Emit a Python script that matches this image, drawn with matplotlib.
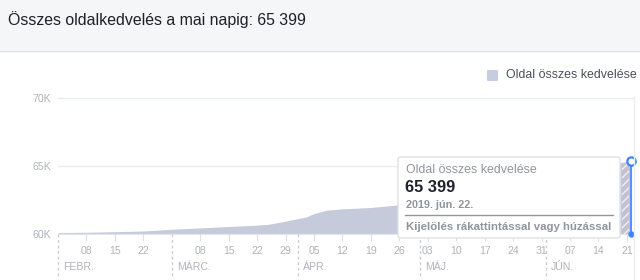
import matplotlib
matplotlib.use("Agg")
import matplotlib.pyplot as plt
import matplotlib.dates as mdates
from matplotlib.patches import Rectangle, FancyBboxPatch
import numpy as np
import datetime as dt

plt.rcParams['font.family'] = ['Liberation Sans', 'DejaVu Sans']

# ---- data ----
dates = ["2019-02-01", "2019-02-08", "2019-02-15", "2019-02-22", "2019-03-01",
         "2019-03-08", "2019-03-15", "2019-03-22", "2019-03-25", "2019-03-29",
         "2019-04-03", "2019-04-05", "2019-04-08", "2019-04-12", "2019-04-19",
         "2019-04-26", "2019-05-03", "2019-05-10", "2019-05-17", "2019-05-24",
         "2019-05-31", "2019-06-07", "2019-06-14", "2019-06-22"]
likes = [60100, 60130, 60170, 60220, 60350, 60450, 60550, 60650, 60720, 60950,
         61250, 61500, 61750, 61850, 61950, 62150, 62500, 62850, 63200, 63600,
         64000, 64500, 64950, 65399]
ytick_vals = [60000, 65000, 70000]
ytick_labels = ["60K", "65K", "70K"]
week_ticks = ["2019-02-08", "2019-02-15", "2019-02-22", "2019-03-08", "2019-03-15",
              "2019-03-22", "2019-03-29", "2019-04-05", "2019-04-12", "2019-04-19",
              "2019-04-26", "2019-05-03", "2019-05-10", "2019-05-17", "2019-05-24",
              "2019-05-31", "2019-06-07", "2019-06-14", "2019-06-21"]
month_starts = ["2019-02-01", "2019-03-01", "2019-04-01", "2019-05-01", "2019-06-01"]
month_labels = ["FEBR.", "MÁRC.", "ÁPR.", "MÁJ.", "JÚN."]
title = "Összes oldalkedvelés a mai napig: 65 399"
series_name = "Oldal összes kedvelése"
tip_value = "65 399"
tip_date = "2019. jún. 22."
tip_hint = "Kijelölés rákattintással vagy húzással"

to_d = lambda s: mdates.date2num(dt.datetime.strptime(s, "%Y-%m-%d"))
x = np.array([to_d(d) for d in dates])
y = np.array(likes)

W, H = 640, 280
fig = plt.figure(figsize=(W / 100, H / 100), dpi=100)
fig.patch.set_facecolor("white")

def fx(px): return px / W
def fy(py): return 1 - py / H

# header band
fig.patches.append(Rectangle((0, fy(50)), 1, 1 - fy(50), transform=fig.transFigure,
                             facecolor="#f5f6f7", edgecolor="none", zorder=0))
fig.add_artist(plt.Line2D([0, 1], [fy(50.5), fy(50.5)], transform=fig.transFigure,
                          color="#dddfe2", lw=1))
fig.text(fx(8), fy(20), title, fontsize=11.4, color="#1d2129", va="center", ha="left")

# legend
fig.patches.append(FancyBboxPatch((fx(487), fy(81)), fx(11), 11 / H,
                                  boxstyle="round,pad=0,rounding_size=0.003",
                                  transform=fig.transFigure, facecolor="#c7cde0",
                                  edgecolor="none"))
fig.text(fx(506), fy(75), series_name, fontsize=8.9, color="#4b4f56", va="center", ha="left")

# axes
left, right, top, bottom = 58, 631, 98, 234
ax = fig.add_axes([fx(left), fy(bottom), fx(right - left), fy(top) - fy(bottom)])
ax.set_facecolor("none")
ax.set_xlim(to_d("2019-02-01"), to_d("2019-06-22"))
ax.set_ylim(60000, 70000)
for s in ax.spines.values():
    s.set_visible(False)

for v in ytick_vals[1:]:
    ax.axhline(v, color="#e9ebee", lw=1, zorder=0, clip_on=False, xmax=1.004)
ax.axhline(60000, color="#dddfe2", lw=1, zorder=3)

ax.fill_between(x, 60000, y, color="#c6cbdc", lw=0, zorder=2)

ax.set_yticks(ytick_vals)
ax.set_yticklabels(ytick_labels, fontsize=7.6, color="#b0b3b9")
ax.tick_params(axis="y", length=0, pad=5)

wt = [to_d(d) for d in week_ticks]
ax.set_xticks(wt)
ax.set_xticklabels([d[-2:] for d in week_ticks], fontsize=7.6, color="#b0b3b9")
ax.tick_params(axis="x", length=5, color="#dddfe2", pad=4)

trans = ax.get_xaxis_transform()
for ms, ml in zip(month_starts, month_labels):
    m = to_d(ms)
    ax.plot([m, m], [0, -44 / 136], transform=trans, color="#c9ccd1", lw=1,
            ls=(0, (2, 2)), clip_on=False)
    ax.annotate(ml, xy=(m, 0), xycoords=trans, xytext=(5, -33), textcoords="offset pixels",
                fontsize=7.6, color="#b0b3b9", ha="left", va="center", annotation_clip=False)

# right border line
fig.add_artist(plt.Line2D([fx(633.5), fx(633.5)], [fy(96), fy(280)], transform=fig.transFigure,
                          color="#eceef1", lw=1))

# selection band + marker
last = x[-1]
ax.add_patch(Rectangle((last - 2.2, 60000), 1.8, y[-1] - 60000 - 250, facecolor="#c0c3ca",
                       edgecolor="#eef0f3", hatch="////", lw=0, zorder=4))
ax.plot([last, last], [60000, y[-1]], color="#5890ff", lw=1.5, zorder=5, clip_on=False)
ax.plot([last], [y[-1]], marker="o", ms=6, mfc="white", mec="#4080ff", mew=1.6,
        zorder=6, clip_on=False)
ax.plot([last], [60000], marker="o", ms=3.5, color="#4080ff", zorder=6, clip_on=False)

# tooltip
tip = FancyBboxPatch((fx(398), fy(238)), fx(222), (238 - 157) / H,
                     boxstyle="round,pad=0,rounding_size=0.006", transform=fig.transFigure,
                     facecolor="white", edgecolor="#dfe1e5", lw=1, zorder=10)
fig.patches.append(tip)
fig.text(fx(406), fy(170), series_name, fontsize=8.9, color="#90949c", va="center", zorder=11)
fig.text(fx(405), fy(187), tip_value, fontsize=11.8, color="#1d2129", weight="bold",
         va="center", zorder=11)
fig.text(fx(406), fy(205), tip_date, fontsize=7.8, color="#90949c", weight="bold",
         va="center", zorder=11)
fig.add_artist(plt.Line2D([fx(405), fx(613)], [fy(214.5), fy(214.5)], transform=fig.transFigure,
                          color="#90949c", lw=1, zorder=11))
fig.text(fx(406), fy(227), tip_hint, fontsize=8.2, color="#90949c", weight="bold",
         va="center", zorder=11)

fig.savefig("out.png", dpi=100)
